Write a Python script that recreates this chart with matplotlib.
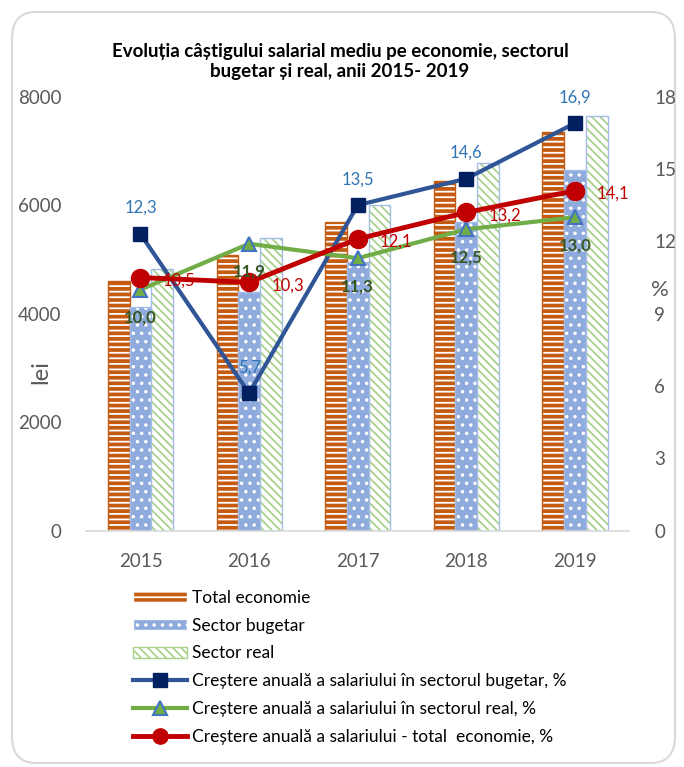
import numpy as np
import matplotlib.pyplot as plt
from matplotlib.patches import FancyBboxPatch, Patch
from matplotlib.lines import Line2D

plt.rcParams['font.family'] = ['Lato', 'DejaVu Sans']
plt.rcParams['hatch.linewidth'] = 1.3

years = ['2015', '2016', '2017', '2018', '2019']
total = [4611, 5084, 5697, 6446, 7356]
bugetar = [4120, 4400, 4950, 5690, 6650]
real = [4820, 5400, 6010, 6770, 7650]

gr_bugetar = [12.3, 5.7, 13.5, 14.6, 16.9]
gr_real = [10.0, 11.9, 11.3, 12.5, 13.0]
gr_total = [10.5, 10.3, 12.1, 13.2, 14.1]

orange = '#C55A11'
lblue = '#8FAADC'
edge_blue = '#A4BDE6'
green = '#A9D18E'
grey = '#595959'

fig = plt.figure(figsize=(6.84, 7.67), dpi=100)
fig.patches.append(FancyBboxPatch((12 / 684, 4 / 767), 663 / 684, 751 / 767,
                                  boxstyle='round,pad=0,rounding_size=0.035',
                                  transform=fig.transFigure, fc='white',
                                  ec='#D9D9D9', lw=1.5, zorder=-1))

ax = fig.add_axes([0.126, 0.308, 0.794, 0.566])
ax.set_facecolor('none')
x = np.arange(len(years))
w = 0.2

# bars: fill + hatch first, then the outline on top
ax.bar(x - w, total, w, color=orange, edgecolor='white', hatch='---', lw=0)
ax.bar(x - w, total, w, color='none', edgecolor=orange, lw=1)
ax.bar(x, bugetar, w, color=lblue, edgecolor='white', hatch='..', lw=0)
ax.bar(x, bugetar, w, color='none', edgecolor=edge_blue, lw=1)
ax.bar(x + w, real, w, color='white', edgecolor=green, hatch='\\\\\\\\', lw=0)
ax.bar(x + w, real, w, color='none', edgecolor=edge_blue, lw=1)

ax.set_ylim(0, 8000)
ax.set_yticks(range(0, 8001, 2000))
ax.set_xlim(-0.5, 4.5)
ax.set_xticks(x, years)
for s in ['top', 'right', 'left']:
    ax.spines[s].set_visible(False)
ax.spines['bottom'].set_color('#D9D9D9')
ax.spines['bottom'].set_linewidth(1.2)
ax.tick_params(length=0, labelsize=13.5, labelcolor=grey, pad=16)
ax.tick_params(axis='y', pad=18)
fig.text(0.06, 0.515, 'lei', fontsize=17, color=grey, rotation=90,
         ha='center', va='center')

ax2 = ax.twinx()
ax2.set_ylim(0, 18)
ax2.set_yticks(range(0, 19, 3))
for s in ax2.spines.values():
    s.set_visible(False)
ax2.tick_params(length=0, labelsize=13.5, labelcolor=grey, pad=18)
fig.text(0.965, 0.622, '%', fontsize=16, color=grey, ha='center', va='center')

ax2.plot(x, gr_bugetar, color='#2F5597', lw=3, marker='s', ms=10,
         mfc='#002060', mec='#002060', zorder=3)
ax2.plot(x, gr_real, color='#70AD47', lw=3, marker='^', ms=10,
         mfc='#70AD47', mec='#4472C4', mew=1.5, zorder=3)
ax2.plot(x, gr_total, color='#C00000', lw=3.5, marker='o', ms=13,
         mfc='#C00000', mec='#C00000', zorder=4)

fmt = lambda v: f'{v:.1f}'.replace('.', ',')
for xi, v in zip(x, gr_bugetar):
    ax2.annotate(fmt(v), (xi, v), xytext=(0, 18), textcoords='offset pixels',
                 ha='center', va='bottom', fontsize=12, color='#2E75B6', zorder=5)
for xi, v in zip(x, gr_real):
    ax2.annotate(fmt(v), (xi, v), xytext=(0, -20), textcoords='offset pixels',
                 ha='center', va='top', fontsize=12, color='#375623',
                 fontweight='bold', zorder=5)
for xi, v in zip(x, gr_total):
    ax2.annotate(fmt(v), (xi, v), xytext=(22, -3), textcoords='offset pixels',
                 ha='left', va='center', fontsize=12, color='#C00000', zorder=5)

fig.text(0.497, 0.92, 'Evoluția câștigului salarial mediu pe economie, sectorul\n'
         'bugetar și real, anii 2015- 2019', ha='center', va='center',
         fontsize=13.5, fontweight='bold', linespacing=1.25)

handles = [
    Patch(facecolor=orange, edgecolor='white', hatch='---'),
    Patch(facecolor=lblue, edgecolor='white', hatch='..'),
    Patch(facecolor='white', edgecolor=green, hatch='\\\\\\\\'),
    Line2D([], [], color='#2F5597', lw=3, marker='s', ms=10, mfc='#002060', mec='#002060'),
    Line2D([], [], color='#70AD47', lw=3, marker='^', ms=10, mfc='#70AD47', mec='#4472C4', mew=1.5),
    Line2D([], [], color='#C00000', lw=3.5, marker='o', ms=11, mfc='#C00000', mec='#C00000'),
]
labels = ['Total economie', 'Sector bugetar', 'Sector real',
          'Creștere anuală a salariului în sectorul bugetar, %',
          'Creștere anuală a salariului în sectorul real, %',
          'Creștere anuală a salariului - total  economie, %']
fig.legend(handles, labels, loc='upper left', bbox_to_anchor=(0.195, 0.231),
           frameon=False, fontsize=12.5, handlelength=3.1, handleheight=0.6,
           handletextpad=0.25, labelspacing=0.68, borderpad=0, borderaxespad=0)

fig.savefig('out.png', dpi=100)
